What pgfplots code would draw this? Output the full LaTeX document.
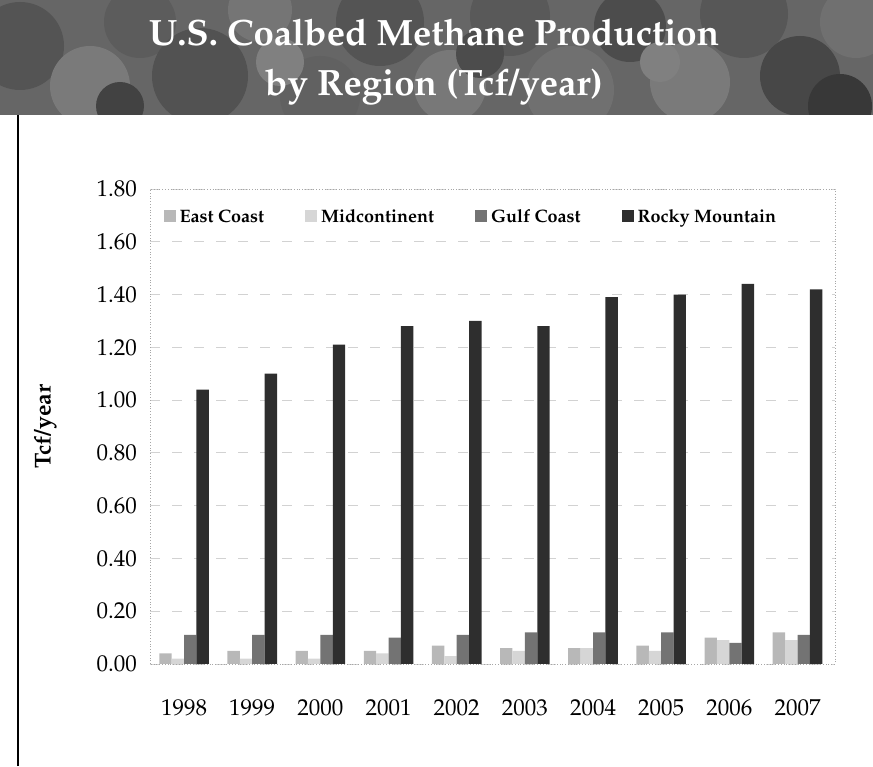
\documentclass[border=0pt]{standalone}
\usepackage[T1]{fontenc}
\usepackage{mathpazo}
\usepackage{pgfplots}
\pgfplotsset{compat=1.18}

\definecolor{eastc}{gray}{0.72}
\definecolor{midc}{gray}{0.84}
\definecolor{gulfc}{gray}{0.45}
\definecolor{rockyc}{gray}{0.18}
\definecolor{banner}{gray}{0.40}

% Production by region, Tcf/year (x = 0 ... 9 for 1998 ... 2007)
\pgfplotstableread{
x  east  mid   gulf  rocky
0  0.04  0.02  0.11  1.04
1  0.05  0.02  0.11  1.10
2  0.05  0.02  0.11  1.21
3  0.05  0.04  0.10  1.28
4  0.07  0.03  0.11  1.30
5  0.06  0.05  0.12  1.28
6  0.06  0.06  0.12  1.39
7  0.07  0.05  0.12  1.40
8  0.10  0.09  0.08  1.44
9  0.12  0.09  0.11  1.42
}\cbmdata

\begin{document}
\begin{tikzpicture}
\useasboundingbox (0,0) rectangle (436.5pt,383pt);

% title banner with a mottled, coal-like texture
\begin{scope}
  \clip (0,325.5pt) rectangle (436.5pt,383pt);
  \fill[banner] (0,325.5pt) rectangle (436.5pt,383pt);
  \foreach \cx/\cy/\r/\g in {
     10/360/22/0.33, 45/340/20/0.48, 70/372/18/0.36, 100/345/24/0.32,
     130/378/16/0.46, 160/335/20/0.38, 190/372/22/0.33, 225/340/18/0.47,
     255/375/20/0.35, 285/338/22/0.44, 315/370/18/0.30, 345/342/20/0.48,
     372/376/22/0.34, 400/345/20/0.28, 428/372/18/0.44, 420/330/16/0.22,
     140/352/12/0.50, 240/356/12/0.30, 330/352/10/0.50, 60/330/12/0.26}
    \fill[black!\fpeval{100*(1-\g)}] (\cx pt,\cy pt) circle (\r pt);
\end{scope}
\node[align=center, text=white, font=\bfseries\fontsize{18.3}{25}\selectfont]
  at (217pt,352pt) {U.S. Coalbed Methane Production\\by Region (Tcf/year)};

% panel border
\draw[line width=1.2pt] (9pt,0) -- (9pt,325.5pt);

\begin{axis}[
  at={(75pt,51pt)}, anchor=south west,
  scale only axis, width=342.5pt, height=237.5pt,
  xmin=-0.5, xmax=9.55, ymin=0, ymax=1.8,
  ybar=0pt, bar width=6.2pt,
  xtick={0,...,9},
  xticklabels={1998,1999,2000,2001,2002,2003,2004,2005,2006,2007},
  ytick={0,0.2,0.4,0.6,0.8,1.0,1.2,1.4,1.6,1.8},
  yticklabel style={/pgf/number format/fixed,
    /pgf/number format/fixed zerofill, /pgf/number format/precision=2,
    font=\fontsize{11.5}{12}\selectfont, xshift=-3pt},
  xticklabel style={font=\fontsize{11.5}{12}\selectfont, yshift=-14pt},
  major tick length=0pt,
  axis line style={gray!70, densely dotted},
  ymajorgrids,
  grid style={gray!35, dash pattern=on 5pt off 6pt, line width=0.4pt},
  ylabel={\bfseries Tcf/year},
  ylabel style={at={(axis description cs:-0.153,0.5)}, anchor=center,
    font=\fontsize{11.5}{12}\selectfont},
  legend columns=4,
  legend style={draw=none, fill=none, at={(0.47,0.975)}, anchor=north,
    font=\bfseries\fontsize{9}{10}\selectfont,
    /tikz/every even column/.append style={column sep=18.5pt}},
  legend image code/.code={\fill[#1] (0pt,-2.5pt) rectangle (6pt,3.5pt);},
]
\addplot[fill=eastc, draw=none] table[x=x, y=east] {\cbmdata};
\addplot[fill=midc, draw=none] table[x=x, y=mid] {\cbmdata};
\addplot[fill=gulfc, draw=none] table[x=x, y=gulf] {\cbmdata};
\addplot[fill=rockyc, draw=none] table[x=x, y=rocky] {\cbmdata};
\legend{East Coast, Midcontinent, Gulf Coast, Rocky Mountain}
\end{axis}
\end{tikzpicture}
\end{document}
